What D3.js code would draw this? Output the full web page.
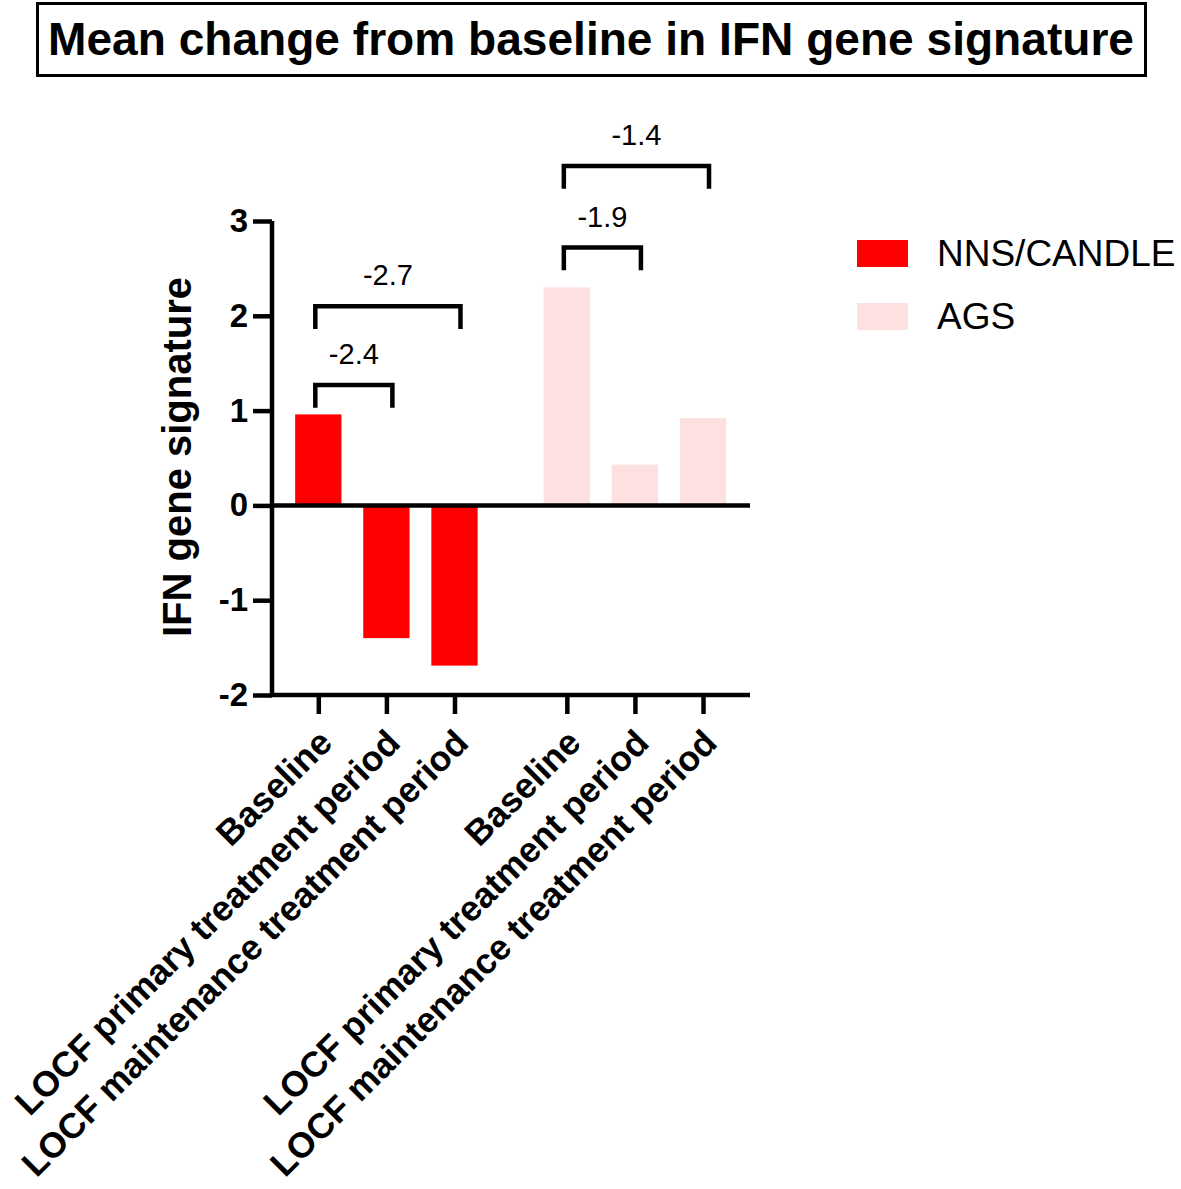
<!DOCTYPE html>
<html>
<head>
<meta charset="utf-8">
<script src="https://cdn.jsdelivr.net/npm/d3@7"></script>
<style>
  body { margin: 0; background: #fff; }
  svg { display: block; font-family: "Liberation Sans", Arial, Helvetica, sans-serif; }
</style>
</head>
<body>
<svg id="chart" width="1181" height="1189"></svg>
<script>
// ---- data ----
const titleText = "Mean change from baseline in IFN gene signature";
const yLabel = "IFN gene signature";
const groups = ["NNS/CANDLE", "AGS"];
const timepoints = ["Baseline", "LOCF primary treatment period", "LOCF maintenance treatment period"];
const nnsValues = [0.96, -1.40, -1.69];
const agsValues = [2.30, 0.43, 0.92];
const yTicks = [-2, -1, 0, 1, 2, 3];
const groupColors = ["#ff0000", "#fde0e0"];
// brackets: group index, from/to timepoint index, label, bracket height (data units)
const bracketGroup = [0, 0, 1, 1];
const bracketFrom = [0, 0, 0, 0];
const bracketTo = [1, 2, 1, 2];
const bracketLabel = ["-2.4", "-2.7", "-1.9", "-1.4"];
const bracketLevel = [1.27, 2.10, 2.72, 3.58];

// ---- layout ----
const svg = d3.select("#chart");
const groupStep = 3.65;
const bars = [];
groups.forEach((g, gi) => {
  const vals = gi === 0 ? nnsValues : agsValues;
  timepoints.forEach((t, ti) => {
    bars.push({ group: gi, tp: ti, label: t, value: vals[ti], pos: gi * groupStep + ti });
  });
});

const x = d3.scaleLinear().domain([-0.68, 2 + groupStep + 0.69]).range([272, 750]);
const y = d3.scaleLinear().domain([-2, 3]).range([695, 221]);
const step = x(1) - x(0);
const barW = step * 0.68;

// title
svg.append("rect").attr("x", 37.5).attr("y", 3.5).attr("width", 1108).attr("height", 72)
  .attr("fill", "none").attr("stroke", "#000").attr("stroke-width", 3);
svg.append("text").attr("x", 591).attr("y", 55).attr("text-anchor", "middle")
  .attr("font-size", 47).attr("font-weight", "bold")
  .attr("textLength", 1086).attr("lengthAdjust", "spacingAndGlyphs")
  .text(titleText);

// bars
svg.append("g").selectAll("rect").data(bars).join("rect")
  .attr("x", d => x(d.pos) - barW / 2)
  .attr("width", barW)
  .attr("y", d => y(Math.max(0, d.value)))
  .attr("height", d => Math.abs(y(d.value) - y(0)))
  .attr("fill", d => groupColors[d.group]);

// zero line
svg.append("line").attr("x1", 272).attr("x2", 750).attr("y1", y(0)).attr("y2", y(0))
  .attr("stroke", "#000").attr("stroke-width", 4.5);

// y axis
const yAxis = svg.append("g").attr("transform", "translate(272,0)")
  .call(d3.axisLeft(y).tickValues(yTicks).tickFormat(d => String(d)).tickSize(19).tickPadding(5));
yAxis.select(".domain").attr("stroke-width", 4.5).attr("d", `M0,${y(3)}V${y(-2)}`);
yAxis.selectAll(".tick line").attr("stroke-width", 4.5);
yAxis.selectAll(".tick text").attr("font-size", 33).attr("font-weight", "bold")
  .attr("font-family", "'Liberation Sans', Arial, sans-serif").attr("fill", "#000");

// x axis
const xAxis = svg.append("g").attr("transform", `translate(0,${y(-2)})`)
  .call(d3.axisBottom(x).tickValues(bars.map(d => d.pos)).tickSize(19).tickFormat(""));
xAxis.select(".domain").attr("stroke-width", 4.5).attr("d", "M270,0H750");
xAxis.selectAll(".tick line").attr("stroke-width", 4.5);

// x labels
svg.append("g").selectAll("text").data(bars).join("text")
  .attr("transform", d => `translate(${x(d.pos) + 7},${y(-2) + 41}) rotate(-45)`)
  .attr("text-anchor", "end").attr("dy", "0.35em")
  .attr("font-size", 35.5).attr("font-weight", "bold")
  .text(d => d.label);

// y label
svg.append("text").attr("transform", "translate(191,457) rotate(-90)")
  .attr("text-anchor", "middle").attr("font-size", 40).attr("font-weight", "bold")
  .text(yLabel);

// brackets
const legLen = 0.24;
bracketLabel.forEach((lab, i) => {
  const gi = bracketGroup[i];
  const x1 = x(gi * groupStep + bracketFrom[i]) - 3;
  const x2 = x(gi * groupStep + bracketTo[i]) + 6;
  const yt = y(bracketLevel[i]);
  const yb = y(bracketLevel[i] - legLen);
  svg.append("path").attr("d", `M${x1},${yb}V${yt}H${x2}V${yb}`)
    .attr("fill", "none").attr("stroke", "#000").attr("stroke-width", 4.5);
  svg.append("text").attr("x", (x1 + x2) / 2).attr("y", yt - 21)
    .attr("text-anchor", "middle").attr("font-size", 29).text(lab);
});

// legend
const legend = svg.append("g");
groups.forEach((g, i) => {
  legend.append("rect").attr("x", 857).attr("y", 240 + i * 63).attr("width", 51).attr("height", 27)
    .attr("fill", groupColors[i]);
  legend.append("text").attr("x", 937).attr("y", 253 + i * 63).attr("dy", "0.35em")
    .attr("font-size", 37).text(g);
});
</script>
</body>
</html>
